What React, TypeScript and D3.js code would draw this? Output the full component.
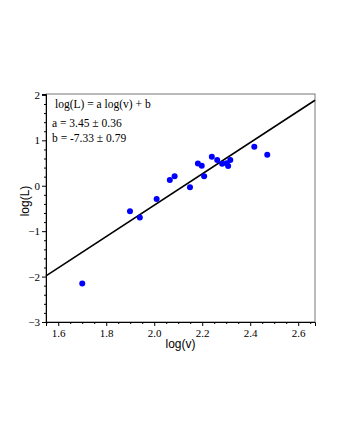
import React, { useEffect, useRef } from 'react';
import * as d3 from 'd3';

// log(v) and log(L)
const logV = [1.70, 1.899, 1.94, 2.01, 2.065, 2.085, 2.149, 2.182, 2.198, 2.208, 2.24, 2.2625, 2.283, 2.302, 2.308, 2.317, 2.417, 2.471];
const logL = [-2.15, -0.56, -0.70, -0.29, 0.126, 0.21, -0.035, 0.49, 0.44, 0.21, 0.64, 0.567, 0.486, 0.494, 0.435, 0.567, 0.86, 0.68];

// fit parameters
const fitA = 3.45;
const fitB = -7.33;
const notes = ['log(L) = a log(v) + b', 'a = 3.45 \u00b1 0.36', 'b = -7.33 \u00b1 0.79'];

const xTicks = [1.6, 1.8, 2.0, 2.2, 2.4, 2.6];
const yTicks = [-3, -2, -1, 0, 1, 2];

const App = () => {
  const ref = useRef<SVGSVGElement>(null);

  useEffect(() => {
    const margin = { left: 46, right: 25, top: 94, bottom: 118 };
    const width = 340 - margin.left - margin.right;
    const height = 440 - margin.top - margin.bottom;

    const root = d3.select(ref.current);
    root.selectAll('*').remove();
    const svg = root.append('g').attr('transform', `translate(${margin.left}, ${margin.top})`);

    const x = d3.scaleLinear().domain([1.549, 2.67]).range([0, width]);
    const y = d3.scaleLinear().domain([-3, 2.02]).range([height, 0]);

    const serif = '"Liberation Serif", "Times New Roman", serif';
    const sans = '"Liberation Sans", Arial, sans-serif';

    // frame
    svg.append('rect')
      .attr('x', 0).attr('y', 0)
      .attr('width', width).attr('height', height)
      .attr('fill', 'none').attr('stroke', '#777').attr('stroke-width', 1);

    // x axis
    const xMinor = d3.range(1.55, 2.67, 0.05).filter(v => !xTicks.some(t => Math.abs(t - v) < 1e-6));
    const xg = svg.append('g').attr('transform', `translate(0, ${height})`);
    xg.call(d3.axisBottom(x).tickValues(xMinor).tickSize(2).tickFormat(() => ''));
    xg.call(g => g.select('.domain').remove());
    const xg2 = svg.append('g').attr('transform', `translate(0, ${height})`);
    xg2.call(d3.axisBottom(x).tickValues(xTicks).tickSize(4).tickPadding(3).tickFormat(d3.format('.1f')));
    xg2.select('.domain').attr('stroke', '#000');
    xg2.selectAll('text').attr('font-family', serif).attr('font-size', 11).attr('fill', '#000');

    // y axis
    const yMinor = d3.range(-2.8, 2.0, 0.2).filter(v => !yTicks.some(t => Math.abs(t - v) < 1e-6));
    const yg = svg.append('g');
    yg.call(d3.axisLeft(y).tickValues(yMinor).tickSize(2).tickFormat(() => ''));
    yg.call(g => g.select('.domain').remove());
    const yg2 = svg.append('g');
    yg2.call(d3.axisLeft(y).tickValues(yTicks).tickSize(4).tickPadding(2).tickFormat(d => d3.format('d')(d as number).replace('-', '\u2212')));
    yg2.select('.domain').attr('stroke', '#000');
    yg2.selectAll('text').attr('font-family', serif).attr('font-size', 11).attr('fill', '#000');

    // fitted line
    const xd = x.domain();
    svg.append('line')
      .attr('x1', x(xd[0])).attr('y1', y(fitA * xd[0] + fitB))
      .attr('x2', x(xd[1])).attr('y2', y(fitA * xd[1] + fitB))
      .attr('stroke', '#000').attr('stroke-width', 1.6);

    // points
    svg.selectAll('.pt')
      .data(logV.map((v, i) => ({ v, l: logL[i] })))
      .enter()
      .append('circle')
      .attr('class', 'pt')
      .attr('cx', d => x(d.v))
      .attr('cy', d => y(d.l))
      .attr('r', 3)
      .attr('fill', '#0000ff');

    // notes
    svg.append('text')
      .attr('x', 9).attr('y', 14)
      .attr('font-family', serif).attr('font-size', 11.5)
      .text(notes[0]);
    svg.append('text')
      .attr('x', 6).attr('y', 33)
      .attr('font-family', serif).attr('font-size', 11.5)
      .text(notes[1]);
    svg.append('text')
      .attr('x', 6).attr('y', 48)
      .attr('font-family', serif).attr('font-size', 11.5)
      .text(notes[2]);

    // axis labels
    svg.append('text')
      .attr('x', width / 2).attr('y', height + 26)
      .attr('text-anchor', 'middle')
      .attr('font-family', sans).attr('font-size', 12)
      .text('log(v)');
    svg.append('text')
      .attr('transform', 'rotate(-90)')
      .attr('x', -(height / 2 - 7)).attr('y', -17)
      .attr('text-anchor', 'middle')
      .attr('font-family', sans).attr('font-size', 12)
      .text('log(L)');
  }, []);

  return (
    <svg ref={ref} width={340} height={440}
      style={{ position: 'absolute', left: 0, top: 0, background: '#fff' }} />
  );
};

export default App;
